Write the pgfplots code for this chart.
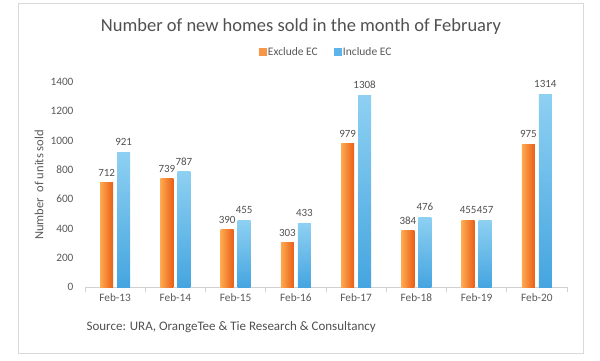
\documentclass[border=0pt]{standalone}
\usepackage{pgfplots}
\pgfplotsset{compat=1.18}
\usepackage{fontspec}
\setmainfont{Carlito}
\definecolor{txt}{HTML}{595959}
\definecolor{ora}{HTML}{F79646}
\definecolor{oraL}{HTML}{FDAA50}
\definecolor{oraD}{HTML}{EA5E18}
\definecolor{bluL}{HTML}{8ED0F2}
\definecolor{bluD}{HTML}{45A5E0}
\definecolor{blu}{HTML}{5BB5E8}
\pgfplotsset{
  ob/.style={draw=none, left color=oraL, right color=oraD, bar shift=-8.5pt, forget plot},
  bb/.style={draw=none, top color=bluL, bottom color=bluD, bar shift=8.5pt, forget plot},
}
\begin{document}
\begin{tikzpicture}
\path[use as bounding box] (0pt,0pt) rectangle (600pt,360pt);
\draw[black!15, line width=0.8pt] (18pt,7pt) rectangle (583pt,357pt);
\node[font=\fontsize{18.5}{22}\selectfont, text=txt!90!black] at (301pt,333pt) {Number of new homes sold in the month of February};
\node[rotate=90, font=\fontsize{12.5}{15}\selectfont, text=txt] at (39pt,175pt) {Number\ \ of units sold};
\begin{axis}[
  at={(85pt,73pt)}, anchor=south west,
  scale only axis, width=482pt, height=205pt,
  ybar, bar width=13pt,
  ymin=0, ymax=1400, ytick={0,200,...,1400},
  xmin=-0.5, xmax=7.5,
  xtick={0,...,7},
  xticklabels={Feb-13,Feb-14,Feb-15,Feb-16,Feb-17,Feb-18,Feb-19,Feb-20},
  minor xtick={-0.5,0.5,...,7.5},
  major tick length=0pt, minor tick length=5pt,
  tick align=outside,
  axis x line*=bottom, axis y line*=left,
  x axis line style={draw=black!18, line width=0.8pt, -},
  y axis line style={draw=none},
  minor x tick style={draw=black!18, line width=0.8pt},
  ytick style={draw=none},
  xtick style={draw=none},
  ticklabel style={font=\fontsize{11.3}{13}\selectfont, text=txt},
  /pgf/number format/assume math mode=true,
  /pgf/number format/1000 sep={},
  yticklabel style={xshift=-8pt},
  xticklabel style={yshift=-3pt},
  nodes near coords,
  nodes near coords style={font=\fontsize{11}{13}\selectfont, text=txt!90!black, yshift=3pt},
  legend style={at={(0.5,1.146)}, anchor=center, draw=none, legend columns=2,
    font=\fontsize{11.5}{13}\selectfont, text=txt, inner xsep=1pt},
  clip=false,
]
\addplot[ob] coordinates {(0,712)};
\addplot[ob] coordinates {(1,739)};
\addplot[ob] coordinates {(2,390)};
\addplot[ob] coordinates {(3,303)};
\addplot[ob] coordinates {(4,979)};
\addplot[ob] coordinates {(5,384)};
\addplot[ob] coordinates {(6,455)};
\addplot[ob] coordinates {(7,975)};
\addplot[bb] coordinates {(0,921)};
\addplot[bb] coordinates {(1,787)};
\addplot[bb] coordinates {(2,455)};
\addplot[bb] coordinates {(3,433)};
\addplot[bb] coordinates {(4,1308)};
\addplot[bb] coordinates {(5,476)};
\addplot[bb] coordinates {(6,457)};
\addplot[bb] coordinates {(7,1314)};
\addlegendimage{legend image code/.code={\fill[ora] (0pt,-3.5pt) rectangle (7pt,3.5pt);}}
\addlegendentry{Exclude EC}
\addlegendimage{legend image code/.code={\path[draw=none, fill=none] (0pt,0pt) -- (14pt,0pt); \fill[blu] (14pt,-3.5pt) rectangle (21pt,3.5pt);}}
\addlegendentry{Include EC}
\end{axis}
\node[anchor=west, font=\fontsize{13}{15}\selectfont, text=txt!90!black] at (83pt,33pt) {Source: URA,\ OrangeTee \& Tie Research \& Consultancy};
\end{tikzpicture}
\end{document}
